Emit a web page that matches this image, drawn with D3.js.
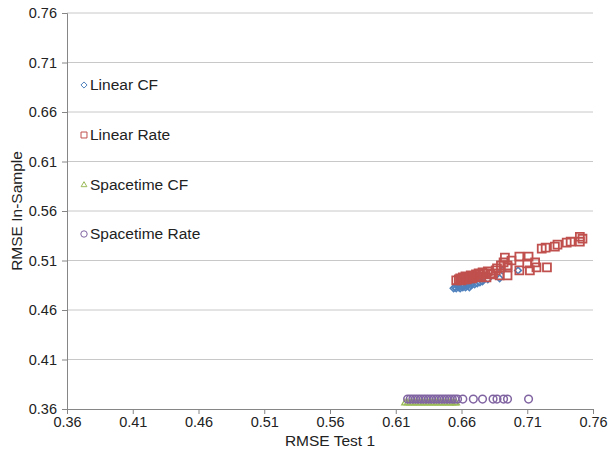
<!DOCTYPE html>
<html>
<head>
<meta charset="utf-8">
<script src="https://cdn.jsdelivr.net/npm/d3@7"></script>
<style>
  body { margin: 0; background: #fff; }
  svg text { font-family: "Liberation Sans", Arial, sans-serif; fill: #222; }
</style>
</head>
<body>
<svg id="chart" width="609" height="457"></svg>
<script>
// --- Data ---

const ticks = [0.36, 0.41, 0.46, 0.51, 0.56, 0.61, 0.66, 0.71, 0.76];

const linearCfX = [0.654, 0.655, 0.656, 0.657, 0.658, 0.659, 0.660, 0.661, 0.662, 0.663, 0.664, 0.665, 0.666, 0.667, 0.668, 0.670, 0.672, 0.674, 0.676, 0.680, 0.689, 0.691, 0.703];
const linearCfY = [0.482, 0.483, 0.482, 0.484, 0.483, 0.482, 0.484, 0.483, 0.485, 0.483, 0.484, 0.485, 0.483, 0.485, 0.486, 0.486, 0.487, 0.488, 0.489, 0.491, 0.492, 0.500, 0.500];

const linearRateX = [0.656, 0.658, 0.659, 0.660, 0.661, 0.662, 0.663, 0.664, 0.665, 0.666, 0.667, 0.668, 0.669, 0.670, 0.671, 0.672, 0.673, 0.674, 0.675, 0.676, 0.677, 0.679, 0.680, 0.682, 0.684, 0.686, 0.687, 0.689, 0.690, 0.692, 0.693, 0.695, 0.695, 0.695, 0.698, 0.704, 0.704, 0.710, 0.711, 0.712, 0.716, 0.717, 0.721, 0.724, 0.725, 0.731, 0.733, 0.740, 0.743, 0.750, 0.750, 0.752];
const linearRateY = [0.490, 0.491, 0.492, 0.490, 0.493, 0.491, 0.494, 0.491, 0.493, 0.492, 0.495, 0.492, 0.494, 0.494, 0.496, 0.493, 0.497, 0.496, 0.494, 0.498, 0.497, 0.493, 0.499, 0.496, 0.497, 0.500, 0.502, 0.495, 0.505, 0.508, 0.513, 0.503, 0.505, 0.495, 0.510, 0.514, 0.500, 0.507, 0.514, 0.500, 0.508, 0.503, 0.522, 0.523, 0.503, 0.524, 0.526, 0.528, 0.529, 0.529, 0.534, 0.532];

const spaceCfX = [0.617, 0.619, 0.621, 0.623, 0.625, 0.627, 0.629, 0.631, 0.633, 0.635, 0.637, 0.639, 0.641, 0.643, 0.645, 0.647, 0.649, 0.651, 0.653, 0.655, 0.656];
const spaceCfY = [0.366, 0.366, 0.366, 0.366, 0.366, 0.366, 0.366, 0.366, 0.366, 0.366, 0.366, 0.366, 0.366, 0.366, 0.366, 0.366, 0.366, 0.366, 0.366, 0.366, 0.366];

const spaceRateX = [0.619, 0.621, 0.623, 0.625, 0.627, 0.629, 0.631, 0.633, 0.635, 0.637, 0.639, 0.641, 0.643, 0.645, 0.647, 0.649, 0.651, 0.653, 0.655, 0.657, 0.661, 0.669, 0.676, 0.684, 0.687, 0.692, 0.695, 0.711];
const spaceRateY = [0.370, 0.370, 0.370, 0.370, 0.370, 0.370, 0.370, 0.370, 0.370, 0.370, 0.370, 0.370, 0.370, 0.370, 0.370, 0.370, 0.370, 0.370, 0.370, 0.370, 0.370, 0.370, 0.370, 0.370, 0.370, 0.370, 0.370, 0.370];

const seriesNames = ["Linear CF", "Linear Rate", "Spacetime CF", "Spacetime Rate"];
const seriesColors = ["#4F81BD", "#C0504D", "#9BBB59", "#8064A2"];

// --- Layout ---

const svg = d3.select("#chart");
const plotLeft = 67, plotRight = 593, plotTop = 13, plotBottom = 409;

const x = d3.scaleLinear().domain([0.36, 0.76]).range([plotLeft, plotRight]);
const y = d3.scaleLinear().domain([0.36, 0.76]).range([plotBottom, plotTop]);

// gridlines
svg.append("g")
  .selectAll("line")
  .data(ticks.slice(1))
  .join("line")
  .attr("x1", plotLeft).attr("x2", plotRight)
  .attr("y1", d => y(d)).attr("y2", d => y(d))
  .attr("stroke", "#C8C8C8").attr("stroke-width", 1);

// axes
const xAxis = svg.append("g")
  .attr("transform", `translate(0,${plotBottom})`)
  .call(d3.axisBottom(x).tickValues(ticks).tickFormat(d3.format(".2f")).tickSize(5).tickPadding(3));
const yAxis = svg.append("g")
  .attr("transform", `translate(${plotLeft},0)`)
  .call(d3.axisLeft(y).tickValues(ticks).tickFormat(d3.format(".2f")).tickSize(5).tickPadding(5));

for (const ax of [xAxis, yAxis]) {
  ax.attr("font-size", null).attr("font-family", null);
  ax.select(".domain").attr("stroke", "#868686");
  ax.selectAll(".tick line").attr("stroke", "#868686");
  ax.selectAll(".tick text").style("font-size", "14.5px").attr("fill", "#222");
}

// axis titles
svg.append("text")
  .attr("x", (plotLeft + plotRight) / 2).attr("y", 446)
  .attr("text-anchor", "middle").style("font-size", "15.5px")
  .text("RMSE Test 1");
svg.append("text")
  .attr("transform", `translate(22,${(plotTop + plotBottom) / 2}) rotate(-90)`)
  .attr("text-anchor", "middle").style("font-size", "15.5px")
  .text("RMSE In-Sample");

// --- Markers ---

const symbols = [
  d3.symbol().type(d3.symbolDiamond2).size(28),
  d3.symbol().type(d3.symbolSquare2).size(80),
  d3.symbol().type(d3.symbolTriangle2).size(30),
  d3.symbol().type(d3.symbolCircle).size(46),
];
const strokeW = [1.6, 1.8, 1.3, 1.5];

const allSeries = [
  d3.zip(linearCfX, linearCfY),
  d3.zip(linearRateX, linearRateY),
  d3.zip(spaceCfX, spaceCfY),
  d3.zip(spaceRateX, spaceRateY),
];

// draw order: Spacetime CF, Spacetime Rate, Linear CF, Linear Rate
const order = [2, 3, 0, 1];
for (const i of order) {
  svg.append("g")
    .selectAll("path")
    .data(allSeries[i])
    .join("path")
    .attr("d", symbols[i])
    .attr("transform", d => `translate(${x(d[0])},${y(d[1])})`)
    .attr("fill", "none")
    .attr("stroke", seriesColors[i])
    .attr("stroke-width", strokeW[i]);
}

// --- Legend ---

const legendY = [85, 135, 185, 234];
const legendSymbols = [
  d3.symbol().type(d3.symbolDiamond2).size(24),
  d3.symbol().type(d3.symbolSquare2).size(45),
  d3.symbol().type(d3.symbolTriangle2).size(24),
  d3.symbol().type(d3.symbolCircle).size(32),
];
const legend = svg.append("g");
seriesNames.forEach((name, i) => {
  legend.append("path")
    .attr("d", legendSymbols[i])
    .attr("transform", `translate(84,${legendY[i]})`)
    .attr("fill", "none")
    .attr("stroke", seriesColors[i])
    .attr("stroke-width", 1);
  legend.append("text")
    .attr("x", 90).attr("y", legendY[i] + 5)
    .style("font-size", "15.5px")
    .text(name);
});
</script>
</body>
</html>
